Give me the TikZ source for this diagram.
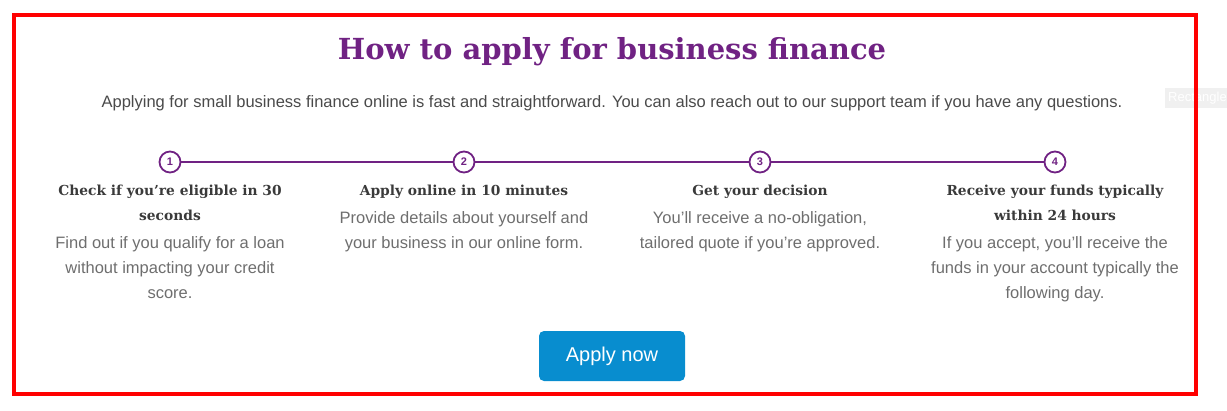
\documentclass[tikz,border=0pt]{standalone}
\usepackage{fontspec}
\setmainfont{Liberation Sans}
\newfontfamily\slabfont{DejaVu Serif}
\usetikzlibrary{positioning}

\definecolor{brandpurple}{HTML}{702283}
\definecolor{headgray}{HTML}{3A3A3A}
\definecolor{bodygray}{HTML}{6E6E6E}
\definecolor{subgray}{HTML}{4A4A4A}
\definecolor{btnblue}{HTML}{088DCF}

\begin{document}
\begin{tikzpicture}[x=1pt,y=-1pt,
    stepnum/.style={circle,draw=brandpurple,line width=1.8pt,fill=white,minimum size=21pt,inner sep=0pt,
        font=\fontsize{11}{11}\selectfont\bfseries,text=brandpurple},
    stephead/.style={anchor=north,align=center,inner sep=0pt,text=headgray,
        font=\slabfont\bfseries\fontsize{13.8}{25}\selectfont},
    stepbody/.style={anchor=north,align=center,inner sep=0pt,text=bodygray,
        font=\fontsize{16.5}{25}\selectfont}]
    \useasboundingbox (0,0) rectangle (1227,410);
    % faint tag behind the frame
    \node[fill=black!6,text=white,font=\fontsize{13}{13}\selectfont,anchor=west,inner sep=3pt,minimum height=20pt] (tag) at (1165,98) {Rectangle};
    \draw[red,line width=4pt] (14,15) rectangle (1196,394);
    % heading
    \node[font=\slabfont\bfseries\fontsize{29}{29}\selectfont,text=brandpurple] (title) at (612,52) {How to apply for business finance};
    \node[font=\fontsize{16.5}{16.5}\selectfont,text=subgray] (intro) at (612,103) {Applying for small business finance online is fast and straightforward. You can also reach out to our support team if you have any questions.};
    % timeline
    \foreach \i/\x in {1/170,2/464,3/760,4/1055}
        \node[stepnum] (c\i) at (\x,162) {\i};
    \draw[brandpurple,line width=1.8pt] (c1) -- (c2);
    \draw[brandpurple,line width=1.8pt] (c2) -- (c3);
    \draw[brandpurple,line width=1.8pt] (c3) -- (c4);
    % steps
    \node[stephead] (h1) at (170,185) {Check if you’re eligible in 30\\seconds};
    \node[stepbody] (b1) at (170,236) {Find out if you qualify for a loan\\without impacting your credit\\score.};
    \node[stephead] (h2) at (464,185) {Apply online in 10 minutes};
    \node[stepbody] (b2) at (464,211) {Provide details about yourself and\\your business in our online form.};
    \node[stephead] (h3) at (760,185) {Get your decision};
    \node[stepbody] (b3) at (760,211) {You’ll receive a no-obligation,\\tailored quote if you’re approved.};
    \node[stephead] (h4) at (1055,185) {Receive your funds typically\\within 24 hours};
    \node[stepbody] (b4) at (1055,236) {If you accept, you’ll receive the\\funds in your account typically the\\following day.};
    % button
    \node[fill=btnblue,rounded corners=5pt,minimum width=146pt,minimum height=50pt,text=white,
        font=\fontsize{20}{20}\selectfont] (apply) at (612,356) {Apply now};
\end{tikzpicture}
\end{document}
